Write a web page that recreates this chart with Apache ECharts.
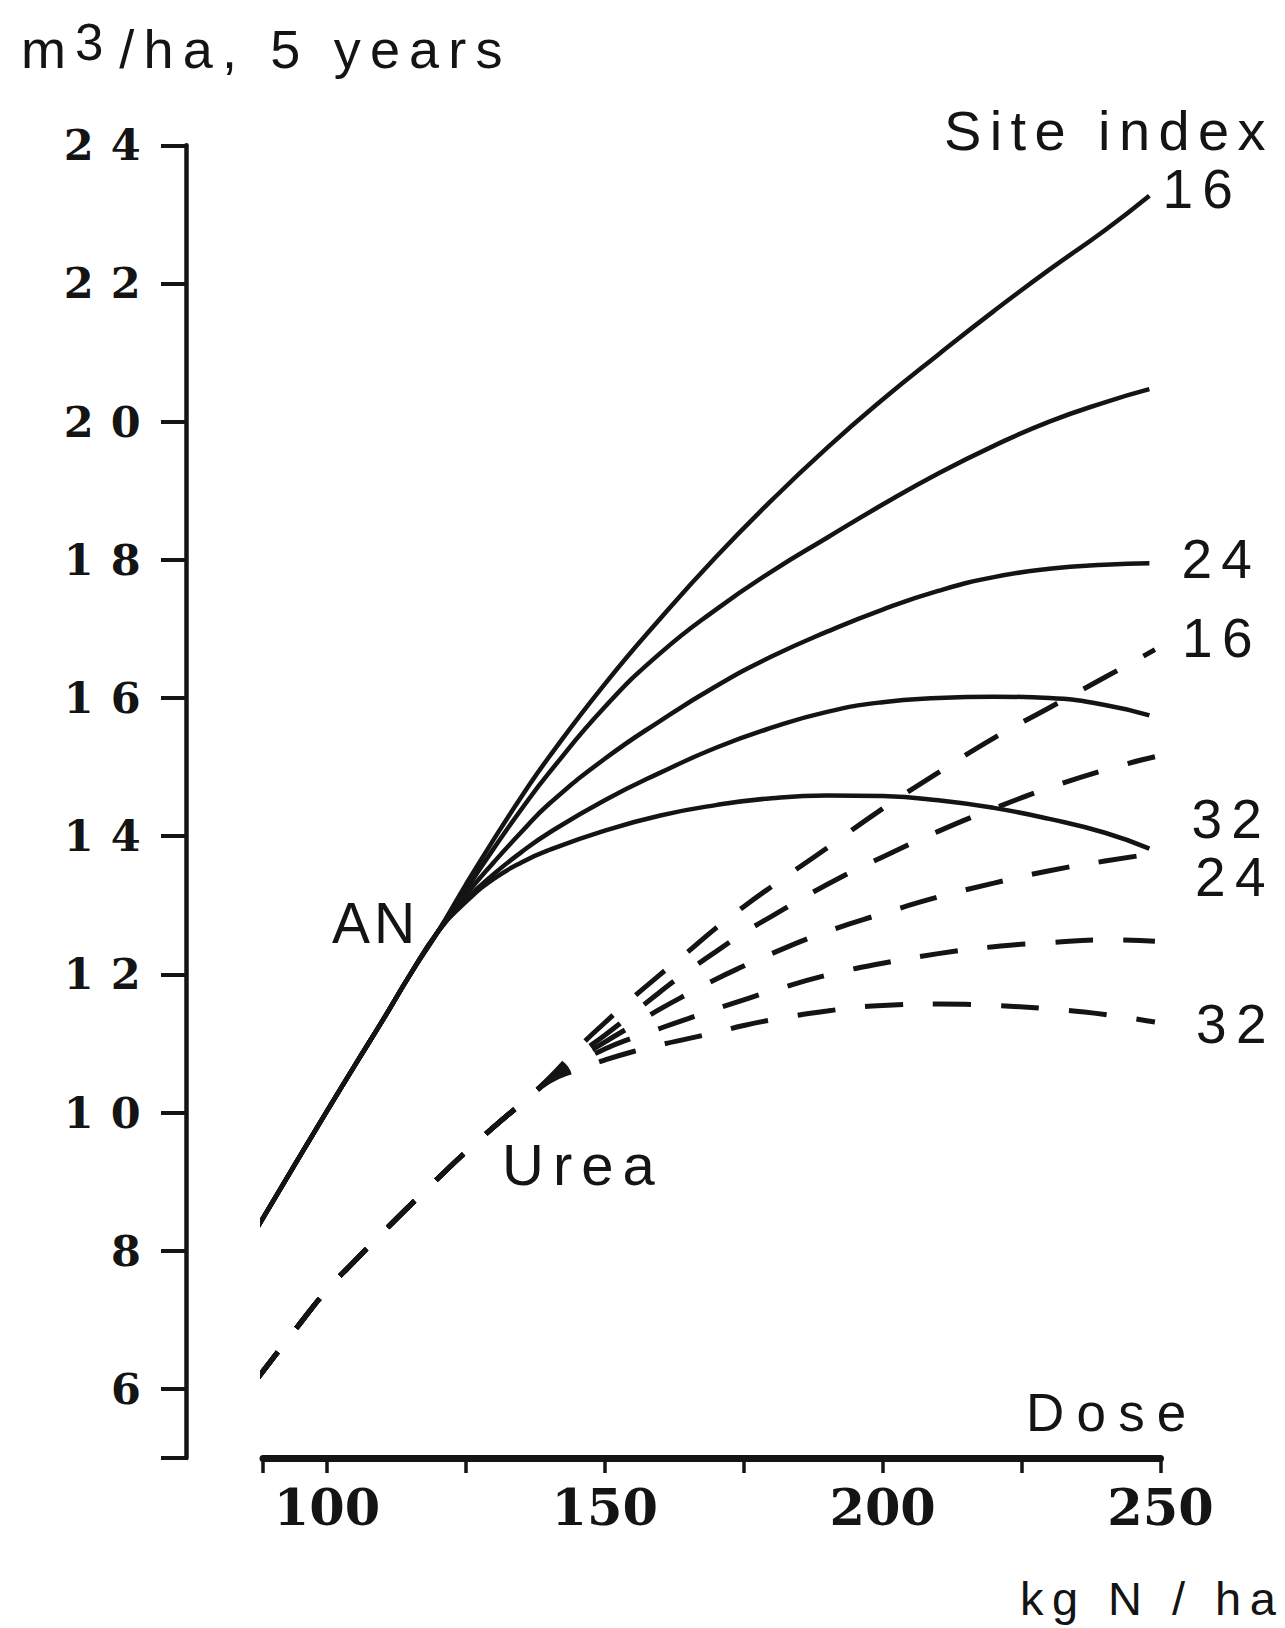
<!DOCTYPE html>
<html>
<head>
<meta charset="utf-8">
<script src="https://cdn.jsdelivr.net/npm/echarts@6/dist/echarts.min.js"></script>
<style>
html,body{margin:0;padding:0;background:#ffffff;}
#chart{width:1285px;height:1628px;}
/* letter spacing of the typewriter-like lettering, chosen per text size */
#chart text[style*="54px"]{letter-spacing:0.17em;}
#chart text[style*="43px"]{letter-spacing:0.4em;}
#chart text[style*="55px"]{letter-spacing:0.17em;}
#chart text[style*="56px"]{letter-spacing:0.15em;}
#chart text[style*="57px"]{letter-spacing:0.07em;}
#chart text[style*="58px"]{letter-spacing:0.155em;}
#chart text[style*="53px"]{letter-spacing:0.23em;}
#chart text[style*="47px"]{letter-spacing:0.18em;}
</style>
</head>
<body>
<div id="chart"></div>
<script>
// ---------- data ----------
const xTickValues  = [88.5, 100, 125, 150, 175, 200, 225, 250];
const xLabelValues = [100, 150, 200, 250];
const yTickValues  = [5, 6, 8, 10, 12, 14, 16, 18, 20, 22, 24];
const yLabelValues = [6, 8, 10, 12, 14, 16, 18, 20, 22, 24];
const siteIndex    = ['16', '20', '24', '28', '32'];

// Ammonium nitrate (solid) – dose, kg N/ha
const doseAN = [87, 95, 100, 105, 110, 115, 120, 125, 130, 135, 140, 150, 160, 170, 180, 190, 200, 210, 220, 230, 240, 248];
const anSI16 = [8.27, 9.35, 10.02, 10.68, 11.33, 12.0, 12.62, 13.3, 13.95, 14.57, 15.15, 16.2, 17.15, 18.04, 18.86, 19.62, 20.32, 20.97, 21.6, 22.2, 22.77, 23.27];
const anSI20 = [8.27, 9.35, 10.02, 10.68, 11.33, 12.0, 12.62, 13.22, 13.82, 14.39, 14.92, 15.87, 16.65, 17.28, 17.83, 18.32, 18.8, 19.25, 19.65, 20.0, 20.28, 20.47];
const anSI24 = [8.27, 9.35, 10.02, 10.68, 11.33, 12.0, 12.62, 13.15, 13.62, 14.06, 14.47, 15.12, 15.67, 16.17, 16.6, 16.96, 17.28, 17.55, 17.75, 17.87, 17.93, 17.95];
const anSI28 = [8.27, 9.35, 10.02, 10.68, 11.33, 12.0, 12.62, 13.08, 13.45, 13.77, 14.05, 14.52, 14.92, 15.28, 15.57, 15.8, 15.94, 16.0, 16.02, 16.0, 15.9, 15.75];
const anSI32 = [8.27, 9.35, 10.02, 10.68, 11.33, 12.0, 12.62, 13.05, 13.38, 13.62, 13.8, 14.08, 14.3, 14.45, 14.55, 14.59, 14.58, 14.52, 14.41, 14.25, 14.05, 13.82];

// Urea (dashed)
const doseUrea = [87, 95, 100, 105, 110, 115, 120, 125, 130, 135, 140, 145, 150, 155, 160, 165, 170, 175, 180, 190, 200, 210, 220, 230, 240, 249];
const ureaSI16 = [6.1, 6.93, 7.43, 7.85, 8.26, 8.66, 9.05, 9.43, 9.79, 10.13, 10.5, 10.92, 11.3, 11.66, 12.0, 12.33, 12.67, 12.98, 13.27, 13.83, 14.4, 14.92, 15.42, 15.86, 16.3, 16.7];
const ureaSI20 = [6.1, 6.93, 7.43, 7.85, 8.26, 8.66, 9.05, 9.43, 9.79, 10.13, 10.48, 10.82, 11.12, 11.43, 11.75, 12.05, 12.33, 12.6, 12.84, 13.3, 13.7, 14.07, 14.4, 14.7, 14.96, 15.15];
const ureaSI24 = [6.1, 6.93, 7.43, 7.85, 8.26, 8.66, 9.05, 9.43, 9.79, 10.13, 10.47, 10.77, 11.02, 11.26, 11.5, 11.72, 11.93, 12.12, 12.3, 12.62, 12.88, 13.12, 13.32, 13.5, 13.64, 13.75];
const ureaSI28 = [6.1, 6.93, 7.43, 7.85, 8.26, 8.66, 9.05, 9.43, 9.79, 10.13, 10.46, 10.71, 10.92, 11.08, 11.22, 11.36, 11.5, 11.63, 11.76, 11.99, 12.16, 12.3, 12.4, 12.46, 12.5, 12.48];
const ureaSI32 = [6.1, 6.93, 7.43, 7.85, 8.26, 8.66, 9.05, 9.43, 9.79, 10.13, 10.45, 10.62, 10.76, 10.88, 10.98, 11.07, 11.16, 11.26, 11.34, 11.47, 11.55, 11.57, 11.55, 11.5, 11.42, 11.31];

// ---------- styling ----------
const INK = '#141414';
const SANS = "'Liberation Sans', Arial, sans-serif";
const SERIF = "'DejaVu Serif', serif";

function lineSeries(name, xs, ys, dashed, label, offset) {
  return {
    type: 'line',
    name: name,
    data: xs.map((x, i) => [x, ys[i]]),
    showSymbol: false,
    symbol: 'none',
    smooth: 0.5,
    clip: false,
    silent: true,
    emphasis: { disabled: true },
    lineStyle: {
      color: INK,
      width: dashed ? 5 : 4.5,
      type: dashed ? [38, 30] : 'solid',
      cap: 'butt'
    },
    endLabel: label ? {
      show: true,
      formatter: label,
      distance: 5,
      offset: offset,
      fontSize: 55,
      lineHeight: 42,
      fontFamily: SANS,
      color: INK
    } : { show: false }
  };
}

const chart = echarts.init(document.getElementById('chart'), null, { renderer: 'svg', width: 1285, height: 1628 });

chart.setOption({
  animation: false,
  backgroundColor: '#ffffff',
  grid: { left: 263, right: 124.5, top: 145.3, bottom: 170, containLabel: false, outerBoundsMode: 'none' },
  xAxis: {
    type: 'value',
    min: 88.5,
    max: 250,
    axisLine: { show: true, onZero: false, lineStyle: { color: INK, width: 7 } },
    axisTick: { show: true, length: 15, customValues: xTickValues, lineStyle: { color: INK, width: 3.5 } },
    axisLabel: { show: true, customValues: xLabelValues, margin: 23, fontSize: 51, fontWeight: 'bold', fontFamily: SERIF, color: INK },
    splitLine: { show: false }
  },
  yAxis: {
    type: 'value',
    min: 5,
    max: 24,
    position: 'left',
    offset: 77,
    axisLine: { show: true, onZero: false, lineStyle: { color: INK, width: 4.5 } },
    axisTick: { show: true, length: 25, customValues: yTickValues, lineStyle: { color: INK, width: 4 } },
    axisLabel: { show: true, customValues: yLabelValues, margin: 28, fontSize: 43, fontWeight: 'bold', fontFamily: SERIF, color: INK },
    splitLine: { show: false }
  },
  graphic: [
    { type: 'text', x: 21, y: 49, silent: true,
      style: { text: '{m|m}{s|3}{m|/ha, 5 years}', verticalAlign: 'middle', align: 'left',
        rich: {
          m: { fontSize: 54, fontFamily: SANS, fill: INK },
          s: { fontSize: 51, fontFamily: SANS, fill: INK, padding: [0, 16, 14, 9] }
        } } },
    { type: 'text', x: 944, y: 130, silent: true,
      style: { text: 'Site index', fontSize: 56, lineHeight: 44, fontFamily: SANS, fill: INK, align: 'left', verticalAlign: 'middle' } },
    { type: 'text', x: 332, y: 923, silent: true,
      style: { text: 'AN', fontSize: 57, fontFamily: SANS, fill: INK, align: 'left', verticalAlign: 'middle' } },
    { type: 'text', x: 502, y: 1164, silent: true,
      style: { text: 'Urea', fontSize: 58, fontFamily: SANS, fill: INK, align: 'left', verticalAlign: 'middle' } },
    { type: 'text', x: 1026, y: 1412, silent: true,
      style: { text: 'Dose', fontSize: 53, fontFamily: SANS, fill: INK, align: 'left', verticalAlign: 'middle' } },
    { type: 'text', x: 1020, y: 1598, silent: true,
      style: { text: 'kg N / ha', fontSize: 47, fontFamily: SANS, fill: INK, align: 'left', verticalAlign: 'middle' } }
  ],
  series: [
    lineSeries('AN, site index 16', doseAN, anSI16, false, siteIndex[0], [8, -7]),
    lineSeries('AN, site index 20', doseAN, anSI20, false, null),
    lineSeries('AN, site index 24', doseAN, anSI24, false, siteIndex[2], [27, -4]),
    lineSeries('AN, site index 28', doseAN, anSI28, false, null),
    lineSeries('AN, site index 32', doseAN, anSI32, false, siteIndex[4], [37, -30]),
    lineSeries('Urea, site index 16', doseUrea, ureaSI16, true, siteIndex[0], [22, -12]),
    lineSeries('Urea, site index 20', doseUrea, ureaSI20, true, null),
    lineSeries('Urea, site index 24', doseUrea, ureaSI24, true, siteIndex[2], [35, 24]),
    lineSeries('Urea, site index 28', doseUrea, ureaSI28, true, null),
    lineSeries('Urea, site index 32', doseUrea, ureaSI32, true, siteIndex[4], [36, 2])
  ]
});
</script>
</body>
</html>
